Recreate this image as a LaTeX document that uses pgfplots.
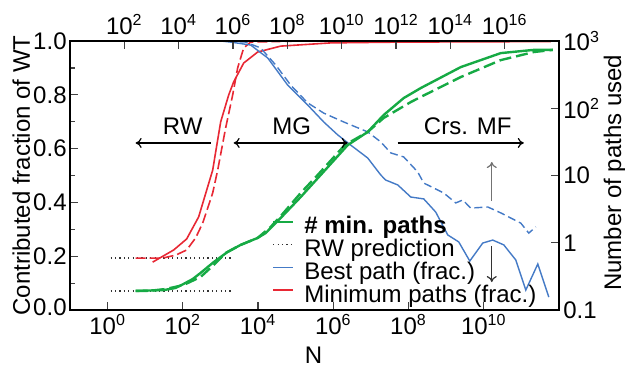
\documentclass[border=0pt]{standalone}
\usepackage{fontspec}
\setmainfont{Liberation Sans}
\usepackage{pgfplots}
\pgfplotsset{compat=1.18}
\usetikzlibrary{arrows.meta}
\definecolor{cgreen}{RGB}{22,170,68}
\definecolor{cblue}{RGB}{68,122,198}
\definecolor{cred}{RGB}{232,40,52}
\newcommand{\fs}{\fontsize{12}{14}\selectfont}
\begin{document}
\fs
\begin{tikzpicture}
\useasboundingbox (-35pt,-27.5pt) rectangle (277.5pt,155pt);
\begin{axis}[
  scale only axis, width=244.5pt, height=134.5pt,
  xmin=-1, xmax=12, ymin=0, ymax=1,
  axis line style={line width=1pt},
  tick align=inside,
  xtick pos=left, ytick pos=left,
  xtick={0,2,4,6,8,10},
  xticklabels={10\textsuperscript{0},10\textsuperscript{2},10\textsuperscript{4},10\textsuperscript{6},10\textsuperscript{8},10\textsuperscript{10}},
  ytick={0,0.2,0.4,0.6,0.8,1},
  yticklabels={\raisebox{2.5pt}{0.0},0.2,0.4,0.6,0.8,1.0},
  minor ytick={0.1,0.3,0.5,0.7,0.9},
  major tick length=4pt, minor tick length=2.5pt,
  every tick/.append style={black!75, line width=0.6pt},
  xticklabel style={font=\fs, inner ysep=2pt},
  yticklabel style={font=\fs, inner xsep=1.5pt},
  xlabel={N},
  xlabel style={at={(axis description cs:0.498,-0.197)}, anchor=base, font=\fs, inner sep=0pt},
  ylabel={Contributed fraction of WT},
  ylabel style={at={(axis description cs:-0.0818,0.5)}, anchor=base, rotate=0, font=\fs, inner sep=0pt},
  legend cell align=left,
  legend image code/.code={\draw[#1] (0pt,3pt) -- (10pt,3pt);},
  legend style={at={(rel axis cs:0.413,0.3465)}, anchor=north west, draw=none, fill=none,
    inner sep=0pt, outer sep=0pt, row sep=0pt, font=\fs,
    nodes={inner sep=0pt, text height=8.6pt, text depth=2.75pt},
    /tikz/every odd column/.append style={column sep=5pt}},
]
\addlegendimage{cgreen, line width=1.2pt}
\addlegendimage{black!80, line width=0.6pt, dash pattern=on 0.6pt off 1.6pt}
\addlegendimage{cblue, line width=0.7pt}
\addlegendimage{cred, line width=0.8pt}
\legend{\textbf{\# min. paths}, RW prediction, Best path (frac.), Minimum paths (frac.)}

% RW prediction (dotted)
\addplot[forget plot, black!80, line width=0.6pt, dash pattern=on 0.6pt off 1.6pt] coordinates {(0.08,0.193) (3.351,0.193)};
\addplot[forget plot, black!80, line width=0.6pt, dash pattern=on 0.6pt off 1.6pt] coordinates {(0.08,0.071) (3.351,0.071)};

% Minimum paths (frac.) - solid
\addplot[forget plot, cred, line width=0.8pt] coordinates {
(1.197,0.178) (1.755,0.223) (2.101,0.264) (2.42,0.346) (2.793,0.52) (3.005,0.699)
(3.218,0.799) (3.351,0.848) (3.617,0.918) (3.989,0.959) (4.601,0.981) (5.931,0.993)
(7.793,0.996) (9.92,0.997) (11.782,0.998)};
% Minimum paths (frac.) - dashed
\addplot[forget plot, cred, line width=0.8pt, dash pattern=on 5pt off 2pt] coordinates {
(0.745,0.193) (1.463,0.193) (1.809,0.204) (2.101,0.223) (2.34,0.268) (2.527,0.323)
(2.793,0.435) (2.926,0.52) (3.138,0.677) (3.324,0.799) (3.457,0.9) (3.617,0.974)
(3.803,0.996) (5.133,1.0) (11.782,1.0)};

% Best path (frac.) - solid
\addplot[forget plot, cblue, line width=0.7pt] coordinates {
(3.005,1.0) (3.271,0.996) (3.803,0.985) (4.255,0.937) (4.335,0.922) (4.787,0.836)
(5.319,0.762) (5.745,0.699) (6.117,0.651) (6.463,0.613) (6.915,0.565) (7.261,0.502)
(7.394,0.483) (7.713,0.465) (8.059,0.42) (8.404,0.413) (8.723,0.364) (9.043,0.279)
(9.335,0.253) (9.628,0.182) (9.973,0.249) (10.239,0.26) (10.532,0.242) (10.851,0.186)
(11.117,0.074) (11.436,0.171) (11.729,0.048)};
% Best path (frac.) - dashed
\addplot[forget plot, cblue, line width=0.7pt, dash pattern=on 4pt off 2pt] coordinates {
(2.872,1.0) (3.67,0.996) (4.069,0.974) (4.468,0.911) (4.867,0.836) (5.319,0.77)
(5.745,0.732) (6.277,0.699) (6.915,0.662) (7.261,0.625) (7.527,0.584) (7.872,0.569)
(8.245,0.513) (8.404,0.472) (8.936,0.435) (9.255,0.398) (9.441,0.409) (9.654,0.379)
(10.106,0.383) (10.452,0.361) (10.984,0.323) (11.197,0.286) (11.383,0.309)};

% # min. paths - solid
\addplot[forget plot, cgreen, line width=1.2pt] coordinates {
(0.745,0.071) (1.489,0.074) (1.809,0.082) (2.021,0.097) (2.261,0.115) (2.473,0.138)
(2.819,0.178) (3.191,0.216) (3.537,0.242) (3.989,0.268) (4.202,0.286) (4.335,0.305)
(4.601,0.342) (5.133,0.42) (5.665,0.502) (6.383,0.613) (6.915,0.662) (7.34,0.725)
(7.872,0.788) (8.324,0.825) (9.388,0.903) (10.452,0.955) (11.33,0.967) (11.835,0.967)};
% # min. paths - dashed
\addplot[forget plot, cgreen, line width=1.2pt, dash pattern=on 6pt off 2.5pt] coordinates {
(0.745,0.071) (1.09,0.071) (1.543,0.078) (2.021,0.093) (2.473,0.123) (2.819,0.167)
(3.138,0.212) (3.537,0.242) (3.989,0.268) (4.335,0.309) (4.601,0.349) (5.133,0.435)
(5.585,0.502) (6.303,0.613) (6.915,0.662) (7.34,0.714) (8.059,0.773) (8.324,0.792)
(9.388,0.866) (10.452,0.929) (11.33,0.959) (11.835,0.967)};

% regime annotations
\draw[-{To[length=3pt,width=5pt]}, line width=0.6pt] (axis cs:2.739,0.621) -- (axis cs:0.745,0.621);
\draw[{To[length=3pt,width=5pt]}-{To[length=3pt,width=5pt]}, line width=0.6pt] (axis cs:3.351,0.621) -- (axis cs:6.383,0.621);
\draw[-{To[length=3pt,width=5pt]}, line width=0.6pt] (axis cs:7.713,0.621) -- (axis cs:11.064,0.621);
\node[anchor=base, font=\fs, inner sep=0pt] at (axis cs:1.995,0.651) {RW};
\node[anchor=base, font=\fs, inner sep=0pt] at (axis cs:4.894,0.651) {MG};
\node[anchor=base, font=\fs, inner sep=0pt] at (axis cs:9.574,0.651) {Crs. MF};
\draw[-{To[length=3pt,width=5pt]}, line width=0.6pt, black!55] (axis cs:10.213,0.405) -- (axis cs:10.213,0.55);
\draw[-{To[length=3pt,width=5pt]}, line width=0.6pt, black!80] (axis cs:10.213,0.238) -- (axis cs:10.213,0.104);
\end{axis}
\begin{axis}[
  scale only axis, width=244.5pt, height=134.5pt,
  xmin=0, xmax=18, ymin=-1, ymax=3,
  axis line style={line width=1pt},
  tick align=inside,
  xtick pos=right, ytick pos=right, xticklabel pos=right, yticklabel pos=right,
  xtick={2,4,6,8,10,12,14,16},
  xticklabels={10\textsuperscript{2},10\textsuperscript{4},10\textsuperscript{6},10\textsuperscript{8},10\textsuperscript{10},10\textsuperscript{12},10\textsuperscript{14},10\textsuperscript{16}},
  ytick={-1,0,1,2,3},
  yticklabels={0.1,1,10,10\textsuperscript{2},10\textsuperscript{3}},
  major tick length=4pt,
  every tick/.append style={black!75, line width=0.6pt},
  xticklabel style={font=\fs, inner ysep=3pt},
  yticklabel style={font=\fs, inner xsep=2pt},
  ylabel={Number of paths used},
  ylabel style={at={(axis description cs:1.1268,0.51)}, anchor=base, rotate=0, font=\fs, inner sep=0pt},
]
\end{axis}
\end{tikzpicture}
\end{document}
